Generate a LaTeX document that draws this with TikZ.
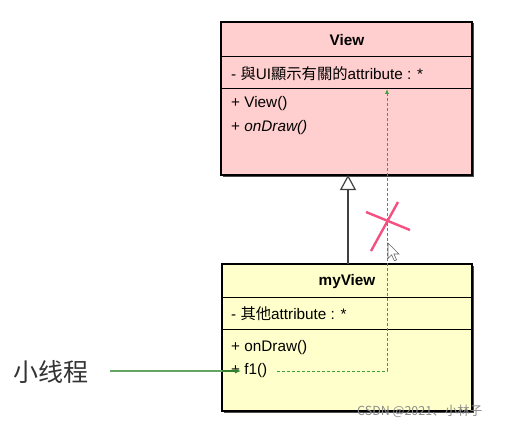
\documentclass[tikz,border=0pt]{standalone}
\usepackage{fontspec}
\setmainfont{Liberation Sans}
\newfontfamily\tcfont{Noto Sans CJK TC}
\newfontfamily\scfont{Noto Sans CJK SC}
\usetikzlibrary{arrows.meta}
\definecolor{viewfill}{RGB}{255,206,206}
\definecolor{myfill}{RGB}{255,255,204}
\definecolor{dashgreen}{RGB}{60,160,60}
\definecolor{linegreen}{RGB}{100,165,100}
\definecolor{pinkx}{RGB}{245,80,130}
\tikzset{
  classbox/.style={draw=black, line width=1.4pt, inner sep=0pt},
  shadowbox/.style={fill=black!70, draw=none, inner sep=0pt},
  member/.style={anchor=west, inner sep=0pt, font=\fontsize{15.3}{17}\selectfont},
  title/.style={inner sep=0pt, font=\fontsize{15.3}{17}\selectfont\bfseries},
  divider/.style={line width=0.9pt},
  dep/.style={dashgreen, dash pattern=on 3pt off 2pt, line width=0.8pt},
  cross/.style={pinkx, line width=2.4pt},
}
\begin{document}
\begin{tikzpicture}[x=1pt,y=-1pt]
\useasboundingbox[fill=white] (0,0) rectangle (512,428);
% shadows
\node[shadowbox, minimum width=251pt, minimum height=153pt] at (348.5,100) {};
\node[shadowbox, minimum width=250pt, minimum height=147pt] at (349,339) {};
% boxes
\node[classbox, fill=viewfill, minimum width=251pt, minimum height=153pt] (view) at (346.5,98.5) {};
\node[classbox, fill=myfill, minimum width=250pt, minimum height=147pt] (myview) at (347,337.5) {};
% dividers
\draw[divider] (view.west |- 0,56) -- (view.east |- 0,56);
\draw[divider] (view.west |- 0,88) -- (view.east |- 0,88);
\draw[divider] (myview.west |- 0,297) -- (myview.east |- 0,297);
\draw[divider] (myview.west |- 0,329) -- (myview.east |- 0,329);
% View texts
\node[title] (vt) at (347,40) {View};
\node[member] (va) at (231,74) {- {\tcfont 與}UI{\tcfont 顯示有關的}attribute : *};
\node[member] (vm1) at (231,104) {+ View()};
\node[member] (vm2) at (231,128) {+ {\itshape onDraw()}};
% myView texts
\node[title] (mt) at (347,282) {myView};
\node[member] (ma) at (231,314) {- {\tcfont 其他}attribute : *};
\node[member] (mm1) at (231,348) {+ onDraw()};
\node[member] (mm2) at (231,371) {+ f1()};
% generalization
\coordinate (gtop) at (348,175);
\coordinate (gbot) at (348,264);
\draw[line width=1.3pt, black!75, -{Triangle[open, width=16pt, length=15pt, line width=1.2pt]}] (gbot) -- (gtop);
% dependency dashed
\coordinate (d1) at (277,371);
\coordinate (d2) at (387,371);
\coordinate (d3) at (387,89);
\draw[dep, -{Latex[length=5pt, width=4pt]}] (d1) -- (d2) -- (d3);
% cross
\coordinate (x1) at (366,212);
\coordinate (x2) at (410,230);
\coordinate (x3) at (398,202);
\coordinate (x4) at (371,251);
\draw[cross] (x1) -- (x2);
\draw[cross] (x3) -- (x4);
% cursor
\draw[black!60, fill=white, line width=0.6pt, shift={(388,243)}, scale=1.1]
  (0,0) -- (0,14) -- (3.3,10.8) -- (5.8,16.2) -- (7.8,15.3) -- (5.4,10) -- (10,10) -- cycle;
% label and arrow
\node[anchor=west, inner sep=0pt, font=\scfont\fontsize{25}{28}\selectfont, text=black!80] (lbl) at (13,372) {小线程};
\coordinate (lstart) at (110,371);
\coordinate (ltip) at (241,371);
\draw[linegreen, line width=1.1pt] (lstart) -- (222,371);
\draw[dashgreen!80!black, line width=1.1pt, -{Latex[length=6pt, width=5pt]}] (222,371) -- (ltip);
% watermark
\node[anchor=west, inner sep=0pt, text=black!45, font=\scfont\fontsize{12.5}{14}\selectfont] (wm) at (357,411) {CSDN @2021、小林子};
\end{tikzpicture}
\end{document}
